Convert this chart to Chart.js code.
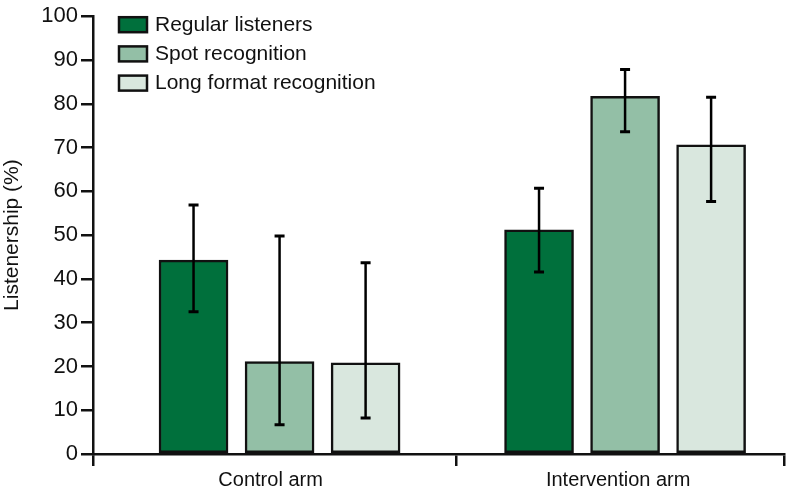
<!DOCTYPE html>
<html>
<head>
<meta charset="utf-8">
<script src="https://cdn.jsdelivr.net/npm/chart.js@4/dist/chart.umd.min.js"></script>
<style>
  html, body { margin: 0; padding: 0; background: #fff; }
  #wrap { width: 786px; height: 489px; }
</style>
</head>
<body>
<div id="wrap"><canvas id="chart"></canvas></div>
<script>
  var FONT = '"Liberation Sans", Arial, sans-serif';

  var categories = ['Control arm', 'Intervention arm'];
  var yTicks = [0, 10, 20, 30, 40, 50, 60, 70, 80, 90, 100];

  var regular = [44.3, 51.2];
  var regularLow = [32.5, 41.6];
  var regularHigh = [56.9, 60.7];

  var spot = [21.1, 81.7];
  var spotLow = [6.7, 73.6];
  var spotHigh = [49.8, 87.8];

  var longFormat = [20.8, 70.6];
  var longLow = [8.2, 57.7];
  var longHigh = [43.7, 81.5];

  // x axis runs 0..100; the two arms are not evenly spaced in the original
  var groupPos = [27, 77];
  var labelPos = [25.7, 76];
  var edgeTicks = [0, 52.6, 100];

  function bar(label, data, low, high, color) {
    return {
      label: label,
      data: data.map(function (v, i) { return { x: groupPos[i], y: v }; }),
      errLow: low,
      errHigh: high,
      backgroundColor: color,
      borderColor: '#111',
      borderWidth: 2.5,
      borderSkipped: false,
      barThickness: 'flex',
      categoryPercentage: 0.747,
      barPercentage: 0.802
    };
  }

  /** Draws the confidence interval whiskers */
  var errorBars = {
    id: 'errorBars',
    afterDatasetsDraw: function (chart) {
      var ctx = chart.ctx;
      var y = chart.scales.y;
      ctx.save();
      ctx.strokeStyle = '#000';
      chart.data.datasets.forEach(function (ds, i) {
        chart.getDatasetMeta(i).data.forEach(function (el, j) {
          var top = y.getPixelForValue(ds.errHigh[j]);
          var bot = y.getPixelForValue(ds.errLow[j]);
          ctx.lineWidth = 2.5;
          ctx.beginPath();
          ctx.moveTo(el.x, top);
          ctx.lineTo(el.x, bot);
          ctx.stroke();
          ctx.lineWidth = 3;
          ctx.beginPath();
          ctx.moveTo(el.x - 5, top);
          ctx.lineTo(el.x + 5, top);
          ctx.moveTo(el.x - 5, bot);
          ctx.lineTo(el.x + 5, bot);
          ctx.stroke();
        });
      });
      ctx.restore();
    }
  };

  /** Legend drawn inside the plot area, top left */
  var insideLegend = {
    id: 'insideLegend',
    afterDraw: function (chart) {
      var ctx = chart.ctx;
      var area = chart.chartArea;
      ctx.save();
      ctx.font = '21px ' + FONT;
      ctx.textBaseline = 'middle';
      chart.data.datasets.forEach(function (ds, i) {
        var bx = area.left + 26;
        var by = area.top + 1 + i * 29.2;
        ctx.fillStyle = ds.backgroundColor;
        ctx.fillRect(bx, by, 28, 15);
        ctx.lineWidth = 2.5;
        ctx.strokeStyle = '#111';
        ctx.strokeRect(bx, by, 28, 15);
        ctx.fillStyle = '#111';
        ctx.fillText(ds.label, bx + 36, by + 8);
      });
      ctx.restore();
    }
  };

  function isLabelTick(v) {
    return labelPos.indexOf(v) !== -1;
  }

  new Chart(document.getElementById('chart'), {
    type: 'bar',
    data: {
      datasets: [
        bar('Regular listeners', regular, regularLow, regularHigh, '#00703c'),
        bar('Spot recognition', spot, spotLow, spotHigh, '#93bfa6'),
        bar('Long format recognition', longFormat, longLow, longHigh, '#d9e7de')
      ]
    },
    options: {
      responsive: true,
      maintainAspectRatio: false,
      animation: false,
      layout: { padding: { top: 9, right: 2, left: 0, bottom: 0 } },
      plugins: { legend: { display: false }, tooltip: { enabled: false } },
      scales: {
        x: {
          type: 'linear',
          min: 0,
          max: 100,
          offset: false,
          afterBuildTicks: function (s) {
            s.ticks = edgeTicks.concat(labelPos).sort(function (a, b) { return a - b; })
              .map(function (v) { return { value: v }; });
          },
          grid: {
            offset: false,
            drawOnChartArea: false,
            tickLength: 12,
            lineWidth: 2.5,
            color: function (c) { return c.tick && isLabelTick(c.tick.value) ? 'rgba(0,0,0,0)' : '#111'; }
          },
          border: { display: true, color: '#111', width: 2.5 },
          ticks: {
            color: '#111',
            font: { family: FONT, size: 20 },
            padding: 2,
            maxRotation: 0,
            autoSkip: false,
            callback: function (v) {
              var i = labelPos.indexOf(v);
              return i === -1 ? '' : categories[i];
            }
          },
          afterFit: function (s) { s.height = 35; }
        },
        y: {
          min: 0,
          max: 100,
          afterBuildTicks: function (s) { s.ticks = yTicks.map(function (v) { return { value: v }; }); },
          grid: { drawOnChartArea: false, tickLength: 12, color: '#111', lineWidth: 2.5 },
          border: { display: true, color: '#111', width: 2.5 },
          ticks: { color: '#111', font: { family: FONT, size: 22 }, padding: 3 },
          title: { display: true, text: 'Listenership (%)', color: '#111', font: { family: FONT, size: 21 }, padding: 0 },
          afterFit: function (s) { s.width = 93; }
        }
      }
    },
    plugins: [errorBars, insideLegend]
  });
</script>
</body>
</html>
